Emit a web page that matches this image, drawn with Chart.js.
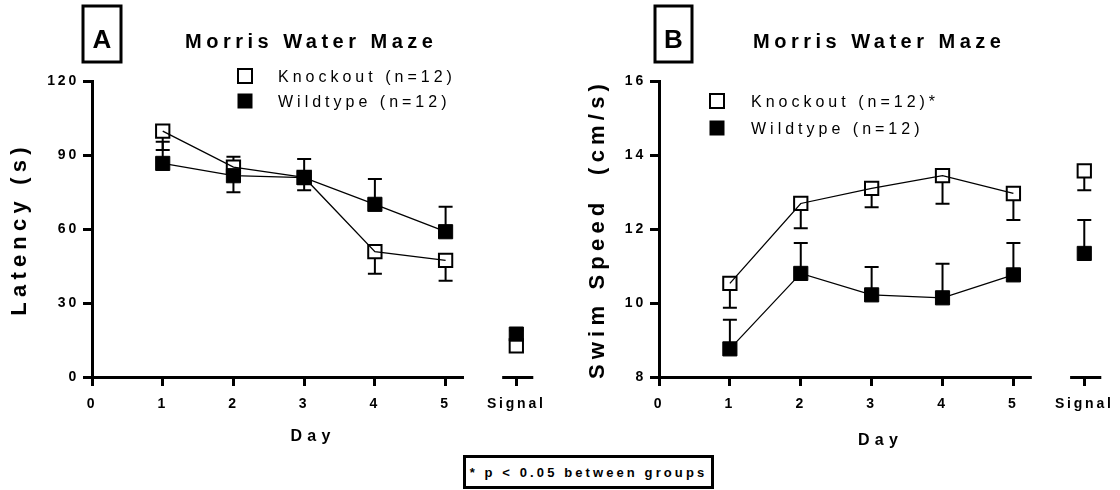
<!DOCTYPE html>
<html>
<head>
<meta charset="utf-8">
<title>Morris Water Maze</title>
<script src="https://cdn.jsdelivr.net/npm/chart.js@4.4.1/dist/chart.umd.min.js"></script>
<style>
  html, body { margin: 0; padding: 0; background: #fff; }
  body { width: 1120px; height: 490px; position: relative; overflow: hidden; }
  .panel { position: absolute; top: 0; width: 560px; height: 490px; }
  #footnote {
    position: absolute; left: 463px; top: 455px; width: 251px; height: 34px;
    box-sizing: border-box; border: 3px solid #000; background: #fff; color: #000;
    font: bold 13px 'Liberation Sans', Arial, sans-serif; letter-spacing: 3.1px;
    display: flex; align-items: center; justify-content: center; white-space: nowrap;
  }
</style>
</head>
<body>
<div class="panel" style="left:0"><canvas id="chartA"></canvas></div>
<div class="panel" style="left:560px"><canvas id="chartB"></canvas></div>
<div id="footnote">* p &lt; 0.05 between groups</div>
<script>
const FONT = "'Liberation Sans', Arial, sans-serif";

// ---- shared categories ----
const days = [1, 2, 3, 4, 5];
const signalDay = [6];
const xTickValues = [0, 1, 2, 3, 4, 5, 6];
const xTickLabels = ['0', '1', '2', '3', '4', '5', 'Signal'];
const groupLabels = ['Knockout (n=12)', 'Wildtype (n=12)'];

// ---- panel A: escape latency (s), mean and SEM ----
const latencyTicks = [0, 30, 60, 90, 120];
const latencyKO = [99.7, 85.1, 80.9, 50.8, 47.3];
const latencyKOSem = [7.7, 10.2, 5.2, 8.9, 8.3];
const latencyWT = [86.6, 81.6, 80.8, 70.0, 58.9];
const latencyWTSem = [8.8, 7.7, 7.6, 10.3, 10.1];
const latencySignalKO = [12.6];
const latencySignalKOSem = [1.5];
const latencySignalWT = [17.4];
const latencySignalWTSem = [1.5];

// ---- panel B: swim speed (cm/s), mean and SEM ----
const speedTicks = [8, 10, 12, 14, 16];
const speedKO = [10.53, 12.69, 13.10, 13.44, 12.96];
const speedKOSem = [0.66, 0.67, 0.51, 0.76, 0.72];
const speedWT = [8.76, 10.80, 10.22, 10.14, 10.76];
const speedWTSem = [0.79, 0.82, 0.75, 0.92, 0.86];
const speedSignalKO = [13.57];
const speedSignalKOSem = [0.52];
const speedSignalWT = [11.34];
const speedSignalWTSem = [0.90];

// ---- helpers ----
const toPoints = (xs, ys) => xs.map((x, i) => ({ x, y: ys[i] }));

function drawSpacedText(ctx, text, x, y, font, spacing, align) {
  ctx.save();
  ctx.font = font;
  ctx.letterSpacing = spacing + 'px';
  ctx.textAlign = align;
  ctx.textBaseline = 'alphabetic';
  ctx.fillStyle = '#000';
  ctx.fillText(text, x + (align === 'center' ? spacing / 2 : 0), y);
  ctx.restore();
}

// tick labels and axis titles use wide letter spacing
const letterSpacingPlugin = {
  id: 'letterSpacing',
  beforeDraw(chart, args, opts) {
    chart.ctx.letterSpacing = opts.ticks + 'px';
    Object.values(chart.scales).forEach(scale => {
      if (scale._spacedTitle) return;
      const drawTitle = scale.drawTitle;
      scale.drawTitle = function () {
        const prev = this.ctx.letterSpacing;
        this.ctx.letterSpacing = opts.titles + 'px';
        drawTitle.call(this);
        this.ctx.letterSpacing = prev;
      };
      scale._spacedTitle = true;
    });
  }
};

// one-sided SEM error bars (knockout downward, wildtype upward)
const errorBarPlugin = {
  id: 'errorBars',
  beforeDatasetsDraw(chart, args, opts) {
    const { ctx } = chart;
    const xs = chart.scales.x, ys = chart.scales.y;
    ctx.save();
    ctx.strokeStyle = '#000';
    ctx.lineWidth = opts.lineWidth;
    chart.data.datasets.forEach(ds => {
      if (!ds.sem) return;
      ds.data.forEach((p, i) => {
        const px = xs.getPixelForValue(p.x);
        const y0 = ys.getPixelForValue(p.y);
        const y1 = ys.getPixelForValue(p.y + ds.semDirection * ds.sem[i]);
        ctx.beginPath();
        ctx.moveTo(px, y0);
        ctx.lineTo(px, y1);
        ctx.moveTo(px - opts.capHalf, y1);
        ctx.lineTo(px + opts.capHalf, y1);
        ctx.stroke();
      });
    });
    ctx.restore();
  }
};

// x axis line broken between the training days and the signal trial
const brokenAxisPlugin = {
  id: 'brokenAxis',
  afterDatasetsDraw(chart, args, opts) {
    const { ctx, chartArea } = chart;
    const xs = chart.scales.x;
    ctx.save();
    ctx.strokeStyle = '#000';
    ctx.lineWidth = opts.width;
    opts.pieces.forEach(([a, b], k) => {
      const x1 = xs.getPixelForValue(a) - (k === 0 ? opts.width / 2 : 0);
      const x2 = xs.getPixelForValue(b);
      ctx.beginPath();
      ctx.moveTo(x1, chartArea.bottom + 0.5);
      ctx.lineTo(x2, chartArea.bottom + 0.5);
      ctx.stroke();
    });
    ctx.restore();
  }
};

// panel letter, panel title and the legend
const panelDecorPlugin = {
  id: 'panelDecor',
  afterDraw(chart, args, o) {
    const { ctx } = chart;
    ctx.save();
    // boxed panel letter
    ctx.strokeStyle = '#000';
    ctx.lineWidth = 3;
    const [bx1, by1, bx2, by2] = o.box;
    ctx.strokeRect(bx1, by1, bx2 - bx1, by2 - by1);
    ctx.restore();
    drawSpacedText(ctx, o.letter, (bx1 + bx2) / 2, o.letterBaseline, `bold 26px ${FONT}`, 0, 'center');
    drawSpacedText(ctx, o.title, o.titleX, o.titleBaseline, `bold 20px ${FONT}`, 4.5, 'center');
    // legend: one row per group, marker style taken from the point datasets
    o.legendRows.forEach((rowY, i) => {
      const ds = chart.data.datasets.find(d => d.legendIndex === i);
      const s = o.legendSize;
      ctx.save();
      ctx.fillStyle = ds.pointBackgroundColor;
      ctx.strokeStyle = '#000';
      ctx.lineWidth = ds.pointBorderWidth;
      ctx.fillRect(o.legendX - s / 2, rowY - s / 2, s, s);
      ctx.strokeRect(o.legendX - s / 2, rowY - s / 2, s, s);
      ctx.restore();
      drawSpacedText(ctx, o.legendTexts[i], o.legendTextX, rowY + 5.5, `16px ${FONT}`, 4, 'left');
    });
  }
};

function buildPanel(canvasId, cfg) {
  const tickFont = { family: FONT, size: 14, weight: 'bold' };
  const datasets = [
    { // knockout line
      data: toPoints(days, cfg.ko), borderColor: '#000', borderWidth: 1.3,
      pointRadius: 0, fill: false, order: 2
    },
    { // wildtype line
      data: toPoints(days, cfg.wt), borderColor: '#000', borderWidth: 1.3,
      pointRadius: 0, fill: false, order: 1
    },
    { // knockout symbols (open squares), days + signal trial
      data: toPoints(days.concat(signalDay), cfg.ko.concat(cfg.koSignal)),
      sem: cfg.koSem.concat(cfg.koSignalSem), semDirection: -1,
      showLine: false, pointStyle: 'rect', pointRadius: 9.4,
      pointBackgroundColor: '#fff', pointBorderColor: '#000', pointBorderWidth: 2,
      legendIndex: 0, order: 4
    },
    { // wildtype symbols (filled squares), days + signal trial
      data: toPoints(days.concat(signalDay), cfg.wt.concat(cfg.wtSignal)),
      sem: cfg.wtSem.concat(cfg.wtSignalSem), semDirection: 1,
      showLine: false, pointStyle: 'rect', pointRadius: 10,
      pointBackgroundColor: '#000', pointBorderColor: '#000', pointBorderWidth: 1,
      legendIndex: 1, order: 3
    }
  ];
  return new Chart(document.getElementById(canvasId), {
    type: 'line',
    data: { datasets },
    plugins: [letterSpacingPlugin, errorBarPlugin, brokenAxisPlugin, panelDecorPlugin],
    options: {
      responsive: true,
      maintainAspectRatio: false,
      devicePixelRatio: 1,
      animation: false,
      events: [],
      layout: { padding: { top: 81, left: 0, right: cfg.rightPad, bottom: 0 } },
      plugins: {
        legend: { display: false },
        tooltip: { enabled: false },
        letterSpacing: { ticks: 2.8, titles: 5.2 },
        errorBars: { lineWidth: 2, capHalf: 7 },
        brokenAxis: { width: 3, pieces: [[0, 5.26], [5.8, 6.24]] },
        panelDecor: cfg.decor
      },
      scales: {
        x: {
          type: 'linear', min: 0, max: 6.25,
          afterBuildTicks: s => { s.ticks = xTickValues.map(v => ({ value: v })); },
          afterFit: s => { s.height = 113; },
          ticks: {
            callback: v => xTickLabels[xTickValues.indexOf(v)],
            font: tickFont, color: '#000', padding: 10, maxRotation: 0, autoSkip: false
          },
          grid: { drawOnChartArea: false, drawTicks: true, tickLength: 9, lineWidth: 3, color: '#000' },
          border: { display: false },
          title: {
            display: true, text: 'Day', color: '#000',
            font: { family: FONT, size: 16, weight: 'bold' },
            padding: { top: 0, bottom: cfg.dayPad }
          }
        },
        y: {
          type: 'linear', min: cfg.yTicks[0], max: cfg.yTicks[cfg.yTicks.length - 1],
          afterBuildTicks: s => { s.ticks = cfg.yTicks.map(v => ({ value: v })); },
          afterFit: s => { s.width = cfg.axisLeft; },
          ticks: { font: tickFont, color: '#000', padding: 4 },
          grid: { drawOnChartArea: false, drawTicks: true, tickLength: 9, lineWidth: 3, color: '#000' },
          border: { display: true, width: 3, color: '#000' },
          title: {
            display: true, text: cfg.yTitle, color: '#000',
            font: { family: FONT, size: 22, weight: 'bold' },
            padding: { top: cfg.yTitlePad, bottom: 0 }
          }
        }
      }
    }
  });
}

buildPanel('chartA', {
  ko: latencyKO, koSem: latencyKOSem, wt: latencyWT, wtSem: latencyWTSem,
  koSignal: latencySignalKO, koSignalSem: latencySignalKOSem,
  wtSignal: latencySignalWT, wtSignalSem: latencySignalWTSem,
  yTicks: latencyTicks, yTitle: 'Latency (s)', yTitlePad: 7,
  axisLeft: 92, rightPad: 26, dayPad: 44,
  decor: {
    letter: 'A', box: [83, 6, 121, 62], letterBaseline: 48,
    title: 'Morris Water Maze', titleX: 309, titleBaseline: 47.5,
    legendX: 245, legendSize: 14, legendTextX: 278, legendRows: [76, 101],
    legendTexts: [groupLabels[0], groupLabels[1]]
  }
});

buildPanel('chartB', {
  ko: speedKO, koSem: speedKOSem, wt: speedWT, wtSem: speedWTSem,
  koSignal: speedSignalKO, koSignalSem: speedSignalKOSem,
  wtSignal: speedSignalWT, wtSignalSem: speedSignalWTSem,
  yTicks: speedTicks, yTitle: 'Swim Speed  (cm/s)', yTitlePad: 25,
  axisLeft: 99, rightPad: 18, dayPad: 40,
  decor: {
    letter: 'B', box: [95, 6, 132, 62], letterBaseline: 48,
    title: 'Morris Water Maze', titleX: 317, titleBaseline: 47.5,
    legendX: 157, legendSize: 14, legendTextX: 191, legendRows: [101, 128],
    legendTexts: [groupLabels[0] + '*', groupLabels[1]]
  }
});
</script>
</body>
</html>
